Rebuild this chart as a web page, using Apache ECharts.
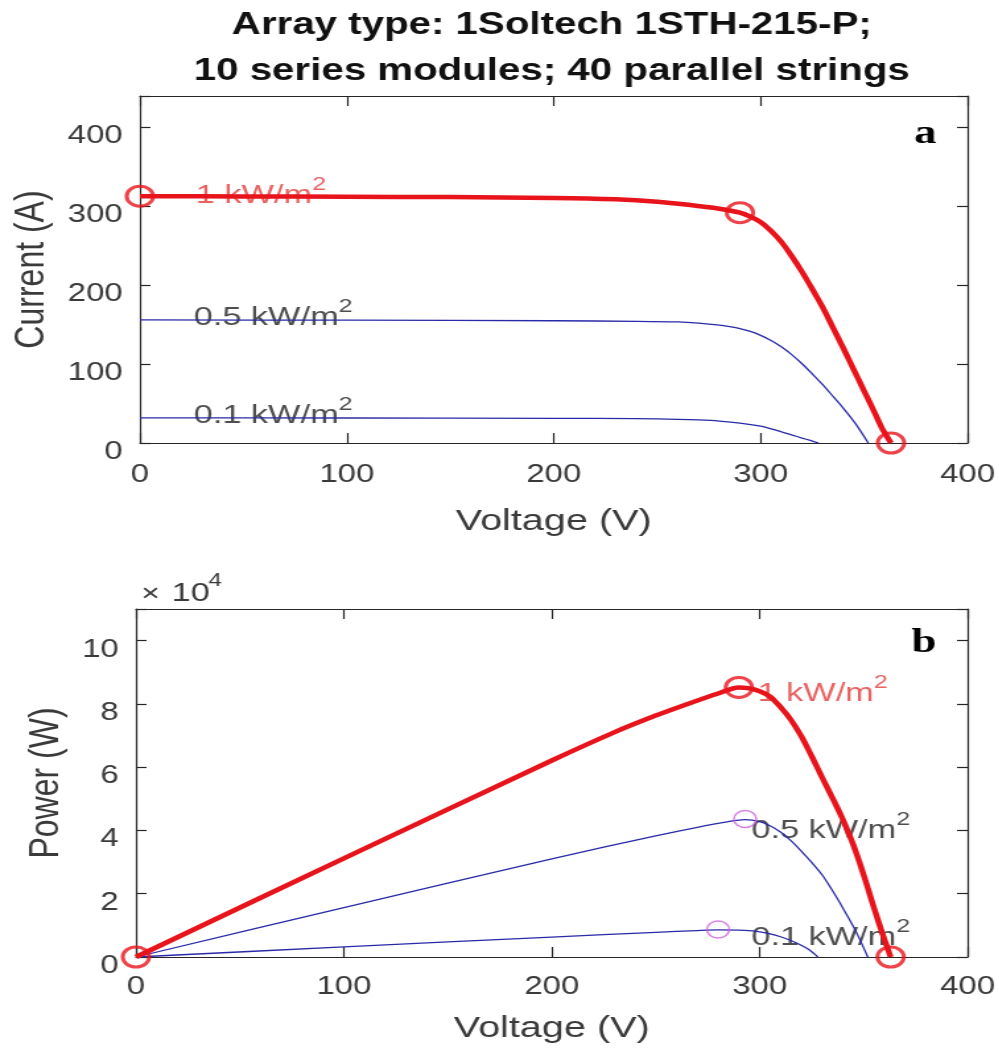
<!DOCTYPE html>
<html><head><meta charset="utf-8">
<script src="https://cdn.jsdelivr.net/npm/echarts@6/dist/echarts.min.js"></script>
<style>
html,body{margin:0;padding:0;background:#fff;overflow:hidden;}
#chart{width:757px;height:1054px;transform:scaleX(1.32);transform-origin:0 0;}
</style>
</head><body><div id="chart"></div>
<script>
// ---------- data ----------
const titleLines = ['Array type: 1Soltech 1STH-215-P;', '10 series modules; 40 parallel strings'];
const seriesNames = ['1 kW/m', '0.5 kW/m', '0.1 kW/m'];
const xAxisName = 'Voltage (V)';
const yNameTop = 'Current (A)';
const yNameBottom = 'Power (W)';
const panelLetters = ['a', 'b'];

// I-V curves (V in volts, I in amps)
const iv1V = [0, 50, 100, 150, 200, 230, 250, 265, 280, 290, 295, 300, 305, 310, 315, 320, 325, 330, 335, 340, 345, 350, 355, 359, 363];
const iv1I = [313, 312.7, 312.3, 311.8, 310.8, 309, 306, 302, 297, 292, 287, 280, 269, 255, 237, 217, 195, 172, 146, 120, 93, 66, 39, 17, 0];
const iv05V = [0, 100, 200, 240, 260, 270, 280, 285, 290, 295, 300, 305, 310, 315, 320, 325, 330, 335, 340, 346, 352];
const iv05I = [156, 155.8, 155, 154.3, 153.5, 152, 149.5, 147.5, 145, 141.5, 136.5, 130, 122, 112, 100.5, 87.5, 74, 59, 44, 24, 0];
const iv01V = [0, 100, 200, 240, 260, 270, 280, 290, 300, 305, 310, 315, 320, 324, 328];
const iv01I = [31.8, 31.7, 31.3, 30.8, 30, 29.2, 27.8, 25.3, 21.3, 18, 14.2, 10.2, 6.3, 3.2, 0];

// P-V curves (V in volts, P in watts)
const pv1V = [0, 100, 200, 230, 250, 265, 280, 290, 295, 300, 305, 310, 315, 320, 325, 330, 335, 340, 345, 350, 355, 359, 363];
const pv1P = [0, 31200, 62100, 71000, 76300, 79900, 83300, 85200, 84900, 84000, 82300, 79000, 75000, 69800, 63500, 56800, 50300, 43500, 35500, 26000, 15500, 7500, 0];
const pv05V = [0, 100, 200, 250, 270, 285, 293, 300, 305, 310, 315, 320, 325, 330, 335, 340, 346, 352];
const pv05P = [0, 15600, 31000, 38300, 41000, 42800, 43400, 42800, 41500, 39500, 36800, 33500, 29900, 26000, 21000, 15500, 8500, 0];
const pv01V = [0, 100, 200, 250, 270, 280, 290, 298, 305, 310, 315, 320, 324, 328];
const pv01P = [0, 3200, 6300, 7800, 8350, 8550, 8500, 8200, 7300, 6400, 5200, 3700, 2200, 0];

// highlighted points (Isc, MPP, Voc)
const ivMarks1 = [[0, 313], [290, 292], [363, 0]];
const pvMarks1 = [[0, 0], [290, 85200], [363, 0]];
const pvMarksLow = [[293, 43600], [280, 8700]];

// text anchor points in data units
const ivLabelAt = [[27, 314], [26, 159], [26, 34.5]];
const pvLabelAt = [[299, 83300], [296, 40000], [296, 6000]];

// ---------- style ----------
const FF = '"Liberation Sans", Arial, Helvetica, sans-serif';
const AX = '#262626';
const LBL = '#3a3a3a';
const RED = '#e8141b';
const BLUE = '#2a2aa8';
const MAG = '#d060e0';

const zip = (xs, ys) => xs.map((x, i) => [x, ys[i]]);

function xAx(grid, pos, show, gap, margin) {
  return {
    type: 'value', gridIndex: grid, position: pos, min: 0, max: 400, interval: 100,
    axisLine: {show: true, onZero: false, lineStyle: {color: AX, width: 1.2}},
    axisTick: {show: true, inside: true, length: 10, lineStyle: {color: AX, width: 1.2}},
    axisLabel: {show: show, margin: margin, fontSize: 25, color: LBL, fontFamily: FF},
    splitLine: {show: false},
    name: show ? xAxisName : '', nameLocation: 'middle', nameGap: gap,
    nameTextStyle: {fontSize: 30, color: LBL, fontFamily: FF}
  };
}
function yAx(grid, pos, show, max, interval, fmt, name, gap) {
  return {
    type: 'value', gridIndex: grid, position: pos, min: 0, max: max, interval: interval,
    axisLine: {show: true, onZero: false, lineStyle: {color: AX, width: 1.2}},
    axisTick: {show: true, inside: true, length: 8, lineStyle: {color: AX, width: 1.2}},
    axisLabel: {show: show, margin: 13, formatter: fmt,
      rich: {t: {fontSize: 25, color: LBL, fontFamily: FF, padding: [18, 0, 0, 0]}}},
    splitLine: {show: false},
    name: show ? name : '', nameLocation: 'middle', nameGap: gap,
    nameTextStyle: {fontSize: 32, color: LBL, fontFamily: FF}
  };
}
function lineS(xi, yi, data, color, width, z) {
  return {type: 'line', xAxisIndex: xi, yAxisIndex: yi, data: data, showSymbol: false,
    symbol: 'none', smooth: 0.3, clip: false, z: z, silent: true,
    lineStyle: {color: color, width: width}};
}
function markS(xi, yi, data, color, size, bw) {
  return {type: 'scatter', xAxisIndex: xi, yAxisIndex: yi, data: data, symbol: 'circle',
    symbolSize: size, clip: false, z: 5, silent: true,
    itemStyle: {color: 'rgba(0,0,0,0)', borderColor: color, borderWidth: bw}};
}
function labelS(xi, yi, at, text, color) {
  return {type: 'scatter', xAxisIndex: xi, yAxisIndex: yi, data: [at], symbolSize: 0,
    silent: true, z: 1, clip: false,
    label: {show: true, position: 'right', distance: 0,
      formatter: '{n|' + text + '}{s|2}',
      rich: {n: {fontSize: 26, color: color, fontFamily: FF},
             s: {fontSize: 19, color: color, fontFamily: FF, padding: [0, 0, 22, 0]}}}};
}

const fmtTop = v => (v % 100 === 0 ? '{t|' + v + '}' : '');
const fmtBot = v => (v % 20000 === 0 ? '{t|' + (v / 10000) + '}' : '');

const option = {
  animation: false,
  backgroundColor: '#fff',
  grid: [
    {left: 104, right: 24, top: 96, height: 347},
    {left: 103, right: 24, top: 609, height: 348}
  ],
  xAxis: [
    xAx(0, 'bottom', true, 64, 20),
    xAx(0, 'top', false, 0, 0),
    xAx(1, 'bottom', true, 57, 18),
    xAx(1, 'top', false, 0, 0)
  ],
  yAxis: [
    yAx(0, 'left', true, 440, 100, fmtTop, yNameTop, 66),
    yAx(0, 'right', false, 440, 100, fmtTop, '', 0),
    yAx(1, 'left', true, 110000, 20000, fmtBot, yNameBottom, 51),
    yAx(1, 'right', false, 110000, 20000, fmtBot, '', 0)
  ],
  graphic: [
    {type: 'text', x: 418, y: 26, style: {text: titleLines[0], font: 'bold 30.5px ' + FF,
      fill: '#111', textAlign: 'center', textVerticalAlign: 'middle'}},
    {type: 'text', x: 418, y: 72, style: {text: titleLines[1], font: 'bold 30.5px ' + FF,
      fill: '#111', textAlign: 'center', textVerticalAlign: 'middle'}},
    {type: 'text', x: 107, y: 594, style: {text: '×', font: '24px ' + FF, fill: LBL,
      textAlign: 'left', textVerticalAlign: 'middle'}},
    {type: 'text', x: 130, y: 594, style: {text: '10', font: '26px ' + FF, fill: LBL,
      textAlign: 'left', textVerticalAlign: 'middle'}},
    {type: 'text', x: 158, y: 581, style: {text: '4', font: '18px ' + FF, fill: LBL,
      textAlign: 'left', textVerticalAlign: 'middle'}},
    {type: 'text', x: 701, y: 134, style: {text: panelLetters[0],
      font: 'bold 34px "Liberation Serif", "Times New Roman", serif', fill: '#000',
      textAlign: 'center', textVerticalAlign: 'middle'}},
    {type: 'text', x: 700, y: 643, style: {text: panelLetters[1],
      font: 'bold 34px "Liberation Serif", "Times New Roman", serif', fill: '#000',
      textAlign: 'center', textVerticalAlign: 'middle'}}
  ],
  series: [
    labelS(0, 0, ivLabelAt[0], seriesNames[0], '#e23b3b'),
    labelS(0, 0, ivLabelAt[1], seriesNames[1], '#222'),
    labelS(0, 0, ivLabelAt[2], seriesNames[2], '#222'),
    lineS(0, 0, zip(iv05V, iv05I), BLUE, 1.3, 2),
    lineS(0, 0, zip(iv01V, iv01I), BLUE, 1.3, 2),
    lineS(0, 0, zip(iv1V, iv1I), RED, 4.5, 3),
    markS(0, 0, ivMarks1, RED, 20, 3),

    labelS(2, 2, pvLabelAt[0], seriesNames[0], '#e23b3b'),
    labelS(2, 2, pvLabelAt[1], seriesNames[1], '#222'),
    labelS(2, 2, pvLabelAt[2], seriesNames[2], '#222'),
    lineS(2, 2, zip(pv05V, pv05P), BLUE, 1.3, 2),
    lineS(2, 2, zip(pv01V, pv01P), BLUE, 1.3, 2),
    lineS(2, 2, zip(pv1V, pv1P), RED, 4.5, 3),
    markS(2, 2, pvMarks1, RED, 20, 3),
    markS(2, 2, pvMarksLow, MAG, 17, 1.5)
  ]
};
const chart = echarts.init(document.getElementById('chart'));
chart.setOption(option);
</script>
</body></html>
